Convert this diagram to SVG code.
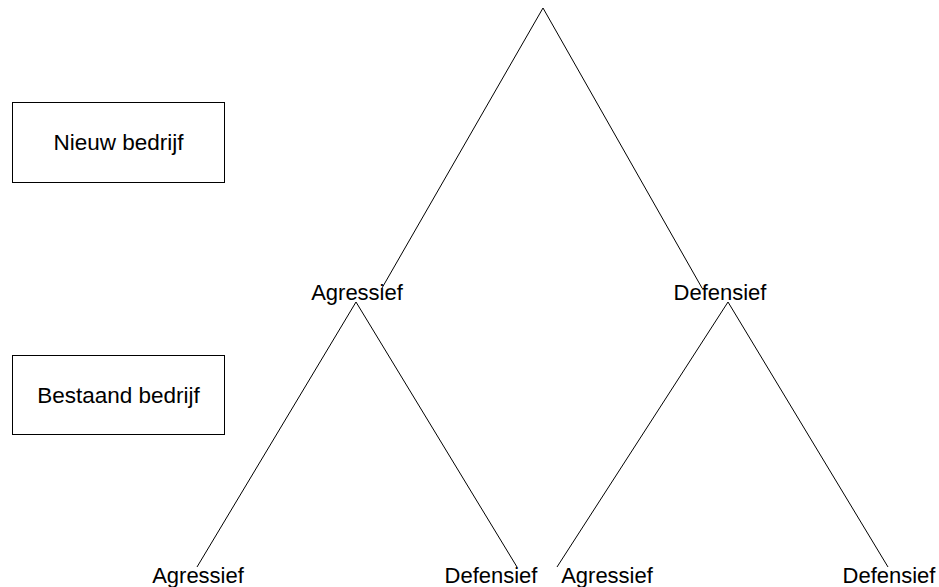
<svg xmlns="http://www.w3.org/2000/svg" width="939" height="587" viewBox="0 0 939 587">
<style>
.bg{fill:#ffffff}
.box{fill:#ffffff;stroke:#000000;stroke-width:1}
.edge{stroke:#000000;stroke-width:1;fill:none}
text{font-family:"Liberation Sans",Arial,sans-serif;font-size:22px;fill:#000000;text-anchor:middle}
.bt{font-size:22.5px}
</style>
<rect class="bg" x="0" y="0" width="939" height="587"/>
<g id="connectors">
<line class="edge" x1="543" y1="8" x2="382" y2="288"/>
<line class="edge" x1="543" y1="8" x2="702" y2="288"/>
<line class="edge" x1="356" y1="302" x2="197" y2="567"/>
<line class="edge" x1="356" y1="302" x2="517" y2="567"/>
<line class="edge" x1="728" y1="302" x2="557" y2="567"/>
<line class="edge" x1="728" y1="302" x2="888" y2="567"/>
</g>
<g id="nieuw">
<rect class="box" x="12.5" y="102.5" width="212" height="80"/>
<text class="bt" x="118.5" y="149.5">Nieuw bedrijf</text>
</g>
<g id="bestaand">
<rect class="box" x="12.5" y="355.5" width="212" height="79"/>
<text class="bt" x="118.5" y="402.5">Bestaand bedrijf</text>
</g>
<g id="agr1"><text x="357" y="300">Agressief</text></g>
<g id="def1"><text x="720" y="300">Defensief</text></g>
<g id="agr2a"><text x="198" y="583">Agressief</text></g>
<g id="def2a"><text x="491" y="583">Defensief</text></g>
<g id="agr2b"><text x="607" y="583">Agressief</text></g>
<g id="def2b"><text x="889" y="583">Defensief</text></g>
</svg>
